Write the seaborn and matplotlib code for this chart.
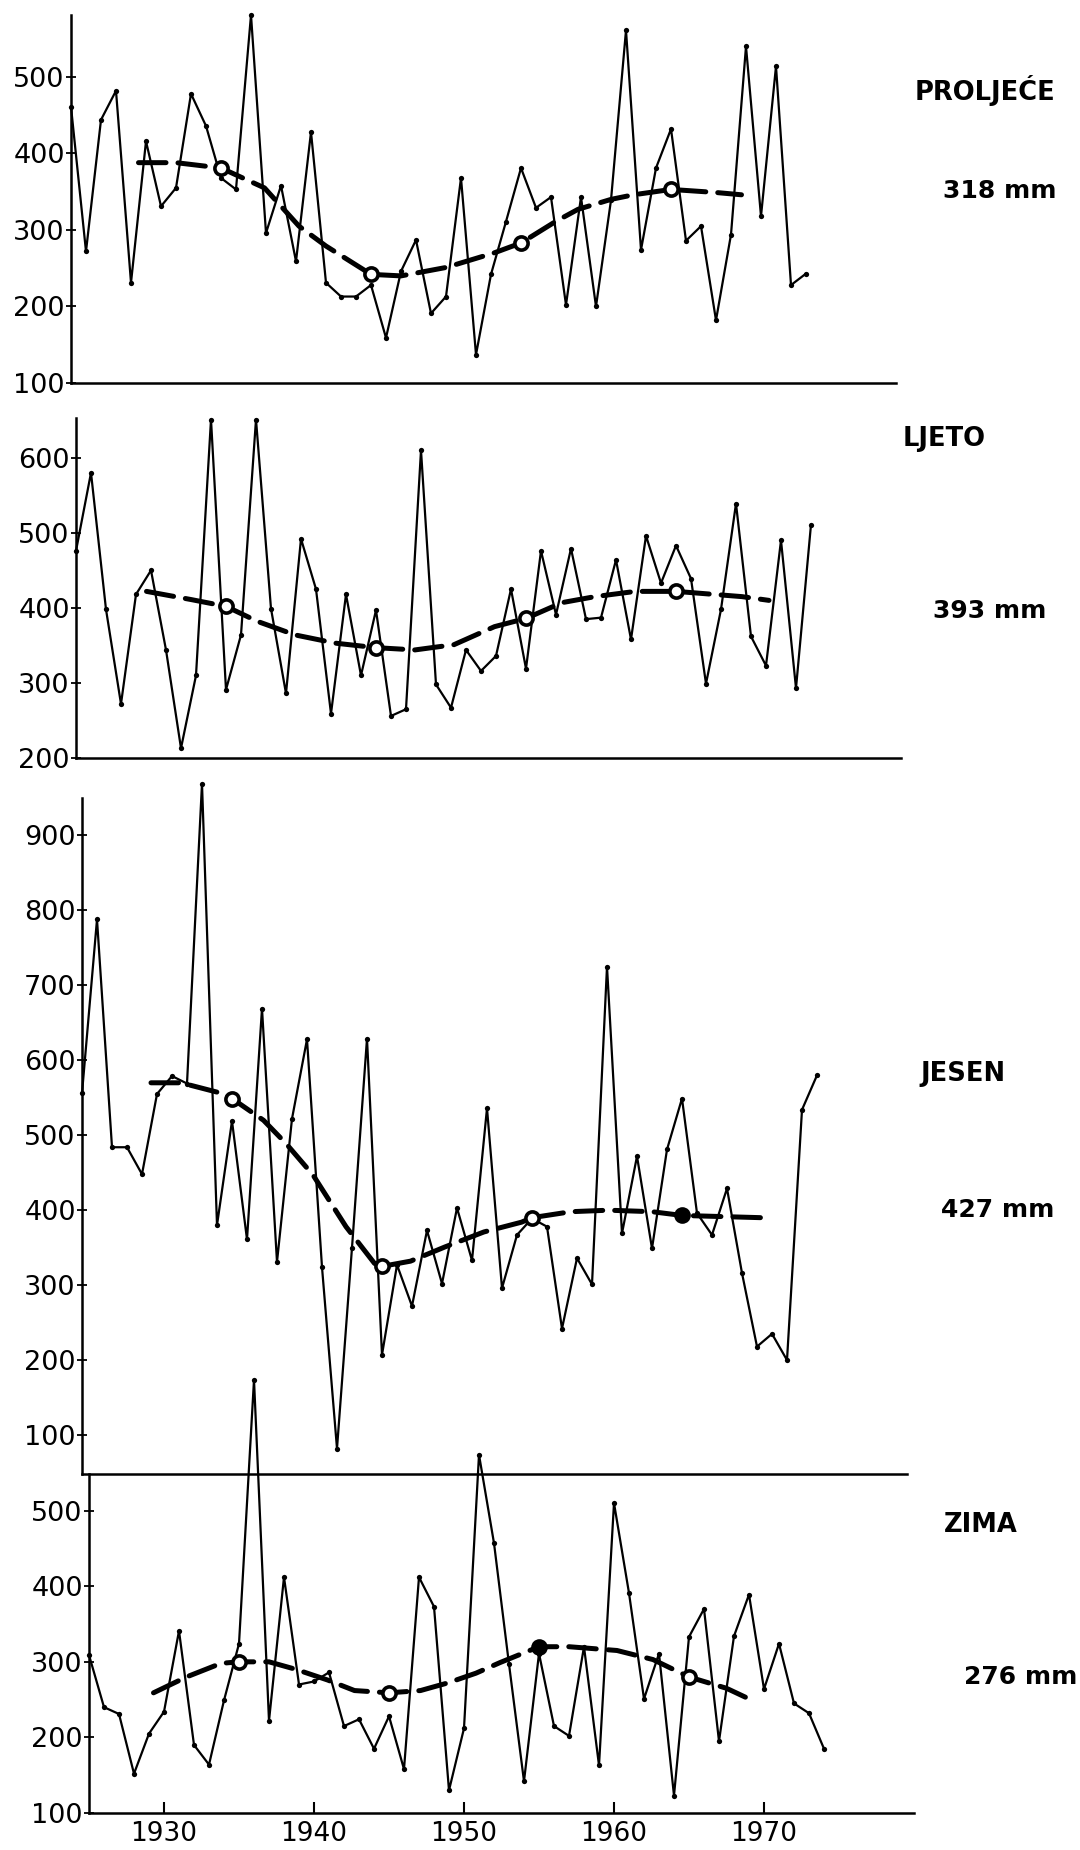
import matplotlib
matplotlib.use("Agg")
import matplotlib.pyplot as plt
import seaborn as sns
import pandas as pd

# ---------------- data ----------------
years = list(range(1925, 1975))

proljece = [461, 272, 444, 482, 231, 416, 331, 355, 478, 436,
            368, 353, 581, 296, 358, 259, 428, 231, 213, 213,
            228, 159, 246, 287, 191, 213, 368, 137, 242, 311,
            381, 329, 343, 202, 343, 200, 339, 561, 274, 381,
            432, 286, 305, 182, 294, 540, 318, 514, 228, 243]

ljeto = [476, 580, 398, 272, 418, 450, 344, 213, 310, 651,
         291, 364, 651, 399, 286, 492, 425, 259, 418, 310,
         397, 256, 265, 610, 298, 267, 344, 316, 336, 425,
         319, 476, 391, 479, 385, 387, 464, 358, 496, 433,
         483, 439, 299, 398, 539, 362, 323, 490, 293, 511]

jesen = [556, 788, 484, 484, 448, 555, 579, 569, 969, 380,
         519, 361, 669, 331, 522, 628, 324, 82, 350, 629,
         207, 327, 272, 373, 302, 403, 333, 536, 296, 367,
         389, 378, 242, 336, 301, 725, 369, 472, 349, 481,
         549, 396, 367, 429, 316, 218, 235, 200, 534, 580]

zima = [309, 240, 231, 152, 205, 234, 341, 190, 164, 249,
        324, 673, 222, 412, 270, 274, 286, 215, 224, 185,
        228, 158, 412, 373, 130, 212, 574, 457, 297, 142,
        311, 215, 202, 320, 163, 510, 391, 251, 311, 123,
        333, 370, 195, 334, 389, 264, 324, 245, 232, 185]

# smoothed (dashed) curves
proljece_trend_x = [1929.5, 1932, 1935, 1937.9, 1940.2, 1942, 1945, 1947, 1950, 1953.2,
                    1955, 1957.3, 1958.8, 1961, 1962.5, 1965, 1968, 1969.7]
proljece_trend_y = [388, 388, 381, 355, 305, 279, 242, 240, 251, 270,
                    283, 311, 327, 340, 346, 353, 349, 346]

ljeto_trend_x = [1929.7, 1932.7, 1935, 1937.1, 1939.6, 1942.3, 1945, 1947.6, 1950.2, 1952.9,
                 1955, 1957.4, 1959.6, 1962.3, 1965, 1969.4, 1971.2]
ljeto_trend_y = [422, 411, 402, 382, 364, 353, 347, 344, 351, 375,
                 386, 407, 415, 422, 422, 415, 410]

jesen_trend_x = [1929.6, 1931.6, 1934.3, 1935, 1937.1, 1938.6, 1940.4, 1942.6, 1944.5, 1945,
                 1946.9, 1949.2, 1951.8, 1954.3, 1955, 1957.6, 1960.1, 1963, 1965, 1970.3]
jesen_trend_y = [570, 570, 556, 549, 520, 489, 447, 378, 329, 325,
                 332, 351, 371, 384, 390, 398, 400, 398, 393, 390]

zima_trend_x = [1929.3, 1931.5, 1933.8, 1935, 1937, 1938.8, 1940.9, 1942.7, 1945, 1947.1,
                1948.9, 1950.8, 1952.4, 1955, 1957, 1960.2, 1962.6, 1965, 1967.5, 1969]
zima_trend_y = [259, 280, 298, 300, 300, 290, 276, 262, 259, 262,
                272, 285, 299, 320, 320, 315, 303, 280, 265, 251]

decade_years = [1935, 1945, 1955, 1965]
proljece_dec = [381, 242, 283, 353]
ljeto_dec = [402, 347, 386, 422]
jesen_dec = [549, 325, 390, 393]
zima_dec = [300, 259, 320, 280]

season_names = ["PROLJEĆE", "LJETO", "JESEN", "ZIMA"]
season_means = ["318 mm", "393 mm", "427 mm", "276 mm"]

yticks_p = [100, 200, 300, 400, 500]
yticks_l = [200, 300, 400, 500, 600]
yticks_j = [100, 200, 300, 400, 500, 600, 700, 800, 900]
yticks_z = [100, 200, 300, 400, 500]
xticks = [1930, 1940, 1950, 1960, 1970]

# ---------------- figure ----------------
sns.set_theme(style="white")
plt.rcParams["font.family"] = ["DejaVu Sans"]

W, H = 1080, 1850
fig = plt.figure(figsize=(W / 100, H / 100), dpi=100)
fig.patch.set_facecolor("white")


def rect(left, top, bottom, width=825):
    return [left / W, 1 - bottom / H, width / W, (bottom - top) / H]


panels = [
    dict(rect=rect(71, 15, 383), ylim=(100, 581), yt=yticks_p, data=proljece,
         tx=proljece_trend_x, ty=proljece_trend_y, dec=proljece_dec, big=None),
    dict(rect=rect(76, 418, 758), ylim=(200, 653), yt=yticks_l, data=ljeto,
         tx=ljeto_trend_x, ty=ljeto_trend_y, dec=ljeto_dec, big=None),
    dict(rect=rect(82, 798, 1474), ylim=(48, 950), yt=yticks_j, data=jesen,
         tx=jesen_trend_x, ty=jesen_trend_y, dec=jesen_dec, big=3),
    dict(rect=rect(89, 1474, 1813), ylim=(100, 548.5), yt=yticks_z, data=zima,
         tx=zima_trend_x, ty=zima_trend_y, dec=zima_dec, big=2),
]

label_pos = [((985, 90), (1000, 191)),
             ((944, 439), (990, 611)),
             ((963, 1074), (998, 1210)),
             ((981, 1525), (1021, 1677))]

for i, p in enumerate(panels):
    ax = fig.add_axes(p["rect"])
    ax.set_facecolor("none")
    df = pd.DataFrame({"year": years, "value": p["data"]})
    sns.lineplot(data=df, x="year", y="value", ax=ax, color="black",
                 linewidth=1.6, marker="o", markersize=3.8, markeredgewidth=0,
                 errorbar=None, clip_on=False, zorder=3)
    tdf = pd.DataFrame({"year": p["tx"], "value": p["ty"]})
    sns.lineplot(data=tdf, x="year", y="value", ax=ax, color="black",
                 linewidth=3.6, errorbar=None, sort=False, clip_on=False, zorder=4)
    ax.lines[-1].set_dashes((5.5, 2.4))
    ax.lines[-1].set_dash_capstyle("round")
    for k, (dy, dv) in enumerate(zip(decade_years, p["dec"])):
        if p["big"] == k:
            ax.plot([dy], [dv], marker="o", markersize=12, color="black",
                    markeredgewidth=0, zorder=5, clip_on=False)
        else:
            ax.plot([dy], [dv], marker="o", markersize=9.5, markerfacecolor="white",
                    markeredgecolor="black", markeredgewidth=2.6, zorder=5, clip_on=False)

    ax.set_xlim(1925, 1980)
    ax.set_ylim(*p["ylim"])
    ax.set_yticks(p["yt"])
    ax.set_yticklabels([str(v) for v in p["yt"]])
    ax.set_xlabel("")
    ax.set_ylabel("")
    for s in ["top", "right"]:
        ax.spines[s].set_visible(False)
    for s in ["left", "bottom"]:
        ax.spines[s].set_color("black")
        ax.spines[s].set_linewidth(1.8)
    ax.tick_params(axis="y", direction="inout", length=7, width=1.3,
                   labelsize=19.5, pad=1, colors="black", left=True)
    if i == 3:
        ax.set_xticks(xticks)
        ax.set_xticklabels([str(v) for v in xticks])
        ax.tick_params(axis="x", direction="in", length=8, width=1.5,
                       labelsize=19, pad=6, colors="black", bottom=True)
    else:
        ax.set_xticks([])
    ax.grid(False)

    (nx, ny), (mx, my) = label_pos[i]
    fig.text(nx / W, 1 - ny / H, season_names[i], ha="center", va="center",
             fontsize=18.5, fontweight="bold", color="black")
    fig.text(mx / W, 1 - my / H, season_means[i], ha="center", va="center",
             fontsize=18, fontweight="bold", color="black")

fig.savefig("out.png", dpi=100, facecolor="white")
